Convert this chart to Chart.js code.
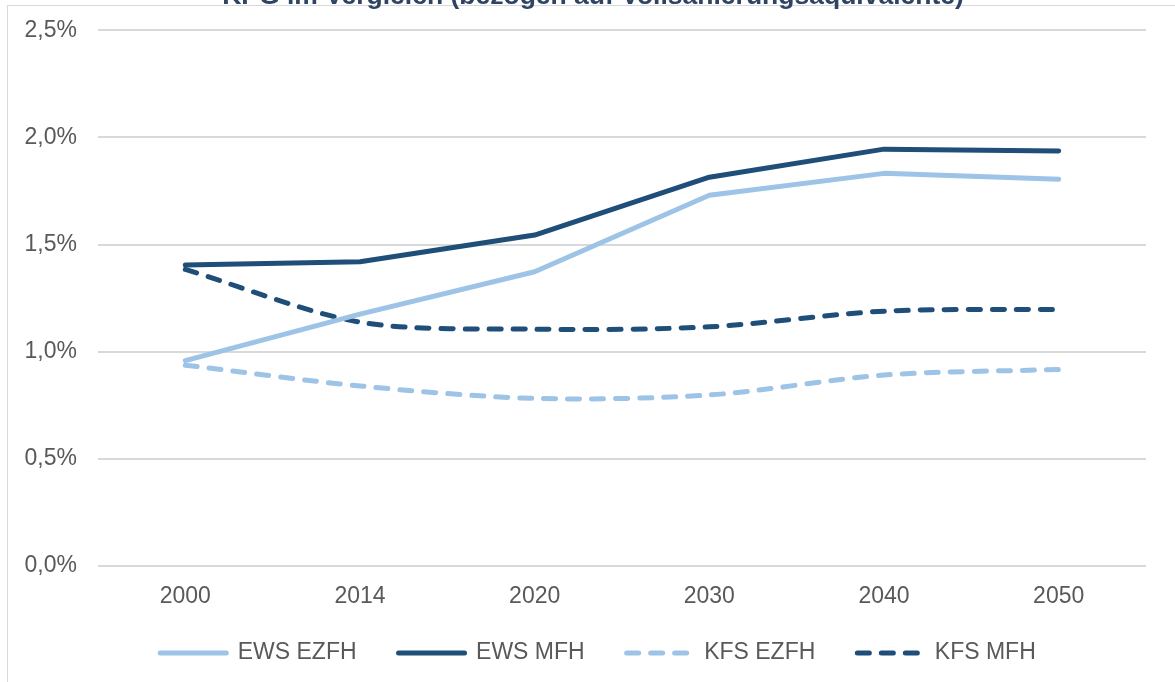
<!DOCTYPE html>
<html>
<head>
<meta charset="utf-8">
<script src="https://cdn.jsdelivr.net/npm/chart.js@4.4.0/dist/chart.umd.min.js"></script>
<style>
    html, body { margin: 0; padding: 0; background: #ffffff; overflow: hidden; }
    body { width: 1175px; height: 682px; position: relative; }
    .frame {
        position: absolute; left: 7px; top: 5px; width: 1200px; height: 700px;
        border-left: 1px solid #d9d9d9; border-top: 1px solid #d9d9d9;
    }
    .wrap { position: absolute; left: 0; top: -24px; width: 1175px; height: 706px; }
</style>
</head>
<body>
<div class="frame"></div>
<div class="wrap"><canvas id="chart"></canvas></div>
<script>
const years = ['2000', '2014', '2020', '2030', '2040', '2050']

// values in percent
const ewsEzfh = [0.958, 1.175, 1.373, 1.730, 1.832, 1.804]
const ewsMfh = [1.404, 1.420, 1.544, 1.814, 1.945, 1.936]
const kfsEzfh = [0.937, 0.840, 0.782, 0.798, 0.891, 0.917]
const kfsMfh = [1.384, 1.138, 1.105, 1.116, 1.189, 1.197]

const seriesNames = ['EWS EZFH', 'EWS MFH', 'KFS EZFH', 'KFS MFH']

const lightBlue = '#9dc3e6'
const darkBlue = '#1f4e79'
const gridColor = '#d9d9d9'
const textColor = '#595959'
const fontFamily = 'Liberation Sans, Arial, sans-serif'

const ctx = document.getElementById('chart').getContext('2d')

function lineSet(label, data, color, dashed) {
    return {
        label: label,
        data: data,
        borderColor: color,
        backgroundColor: color,
        borderWidth: 5,
        borderCapStyle: 'round',
        borderJoinStyle: 'round',
        borderDash: dashed ? [12, 12] : [],
        tension: dashed ? 0.3 : 0,
        pointRadius: 0,
        pointHoverRadius: 0,
        fill: false
    }
}

// move legend and title a bit, like in the original
const boxShift = {
    id: 'boxShift',
    afterLayout(chart) {
        chart.legend.left += 25
        chart.legend.right += 25
        chart.legend.top -= 7.5
        chart.legend.bottom -= 7.5
        chart.titleBlock.left += 20
        chart.titleBlock.right += 20
    }
}

new Chart(ctx, {
    type: 'line',
    data: {
        labels: years,
        datasets: [
            lineSet(seriesNames[0], ewsEzfh, lightBlue, false),
            lineSet(seriesNames[1], ewsMfh, darkBlue, false),
            lineSet(seriesNames[2], kfsEzfh, lightBlue, true),
            lineSet(seriesNames[3], kfsMfh, darkBlue, true)
        ]
    },
    plugins: [boxShift],
    options: {
        responsive: true,
        maintainAspectRatio: false,
        animation: false,
        layout: {
            padding: { left: 0, right: 29, top: 0, bottom: 0 }
        },
        plugins: {
            title: {
                display: true,
                text: 'KPG im Vergleich (bezogen auf Vollsanierungsäquivalente)',
                color: '#2f4462',
                font: { family: fontFamily, size: 26.5, weight: 'bold' },
                padding: { top: 5, bottom: 17.4 }
            },
            legend: {
                position: 'bottom',
                labels: {
                    color: textColor,
                    font: { family: fontFamily, size: 23 },
                    usePointStyle: true,
                    pointStyle: 'line',
                    pointStyleWidth: 66,
                    padding: 42,
                    generateLabels: function(chart) {
                        const items = Chart.defaults.plugins.legend.labels.generateLabels(chart)
                        items.forEach((item, i) => {
                            const ds = chart.data.datasets[i]
                            item.lineDash = ds.borderDash
                            item.lineWidth = 5
                            item.lineCap = 'round'
                            item.strokeStyle = ds.borderColor
                        })
                        return items
                    }
                }
            },
            tooltip: { enabled: false }
        },
        scales: {
            x: {
                offset: true,
                afterFit: function(scale) { scale.height = 41 },
                grid: { display: false, drawTicks: false },
                border: { display: false },
                ticks: {
                    color: textColor,
                    padding: 17,
                    font: { family: fontFamily, size: 23 }
                }
            },
            y: {
                min: 0,
                max: 2.5,
                afterFit: function(scale) { scale.width = 98 },
                grid: { color: gridColor, lineWidth: 2, drawTicks: false },
                border: { display: false },
                ticks: {
                    stepSize: 0.5,
                    color: textColor,
                    padding: 21,
                    font: { family: fontFamily, size: 23 },
                    callback: function(v) { return v.toFixed(1).replace('.', ',') + '%' }
                }
            }
        }
    }
})
</script>
</body>
</html>
